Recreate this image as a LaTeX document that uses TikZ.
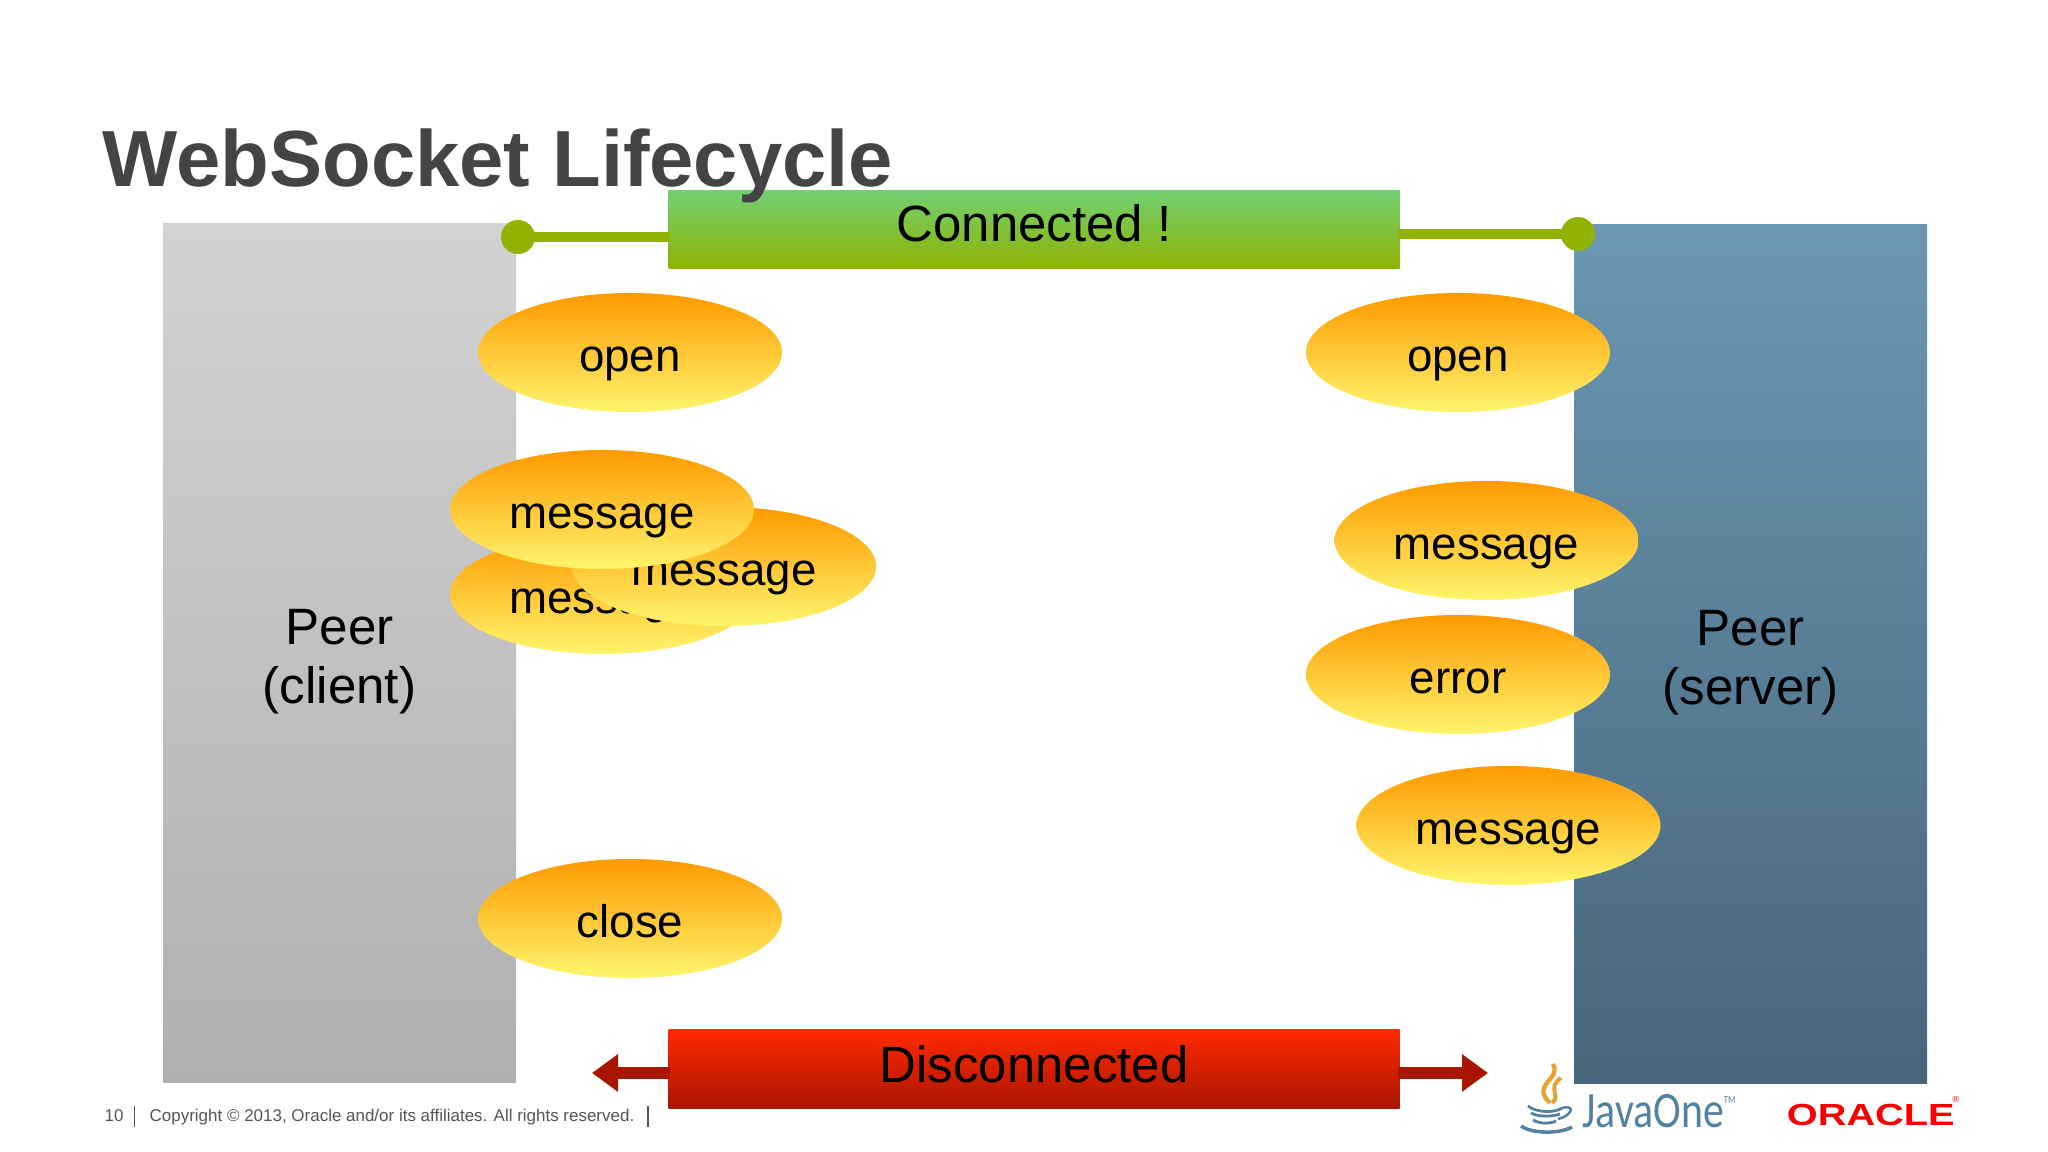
\documentclass[tikz,border=0pt]{standalone}
\usepackage{xcolor}
\usepackage{fontspec}
\setmainfont{Liberation Sans}
\newfontfamily\logofont{Carlito}
\usetikzlibrary{positioning,arrows.meta,shapes.geometric}

\definecolor{titlegray}{HTML}{444444}
\definecolor{footgray}{HTML}{555555}
\definecolor{clienttop}{HTML}{D2D2D2}
\definecolor{clientbottom}{HTML}{B0B0B0}
\definecolor{servertop}{HTML}{6A97B2}
\definecolor{serverbottom}{HTML}{47667C}
\definecolor{oktop}{HTML}{72D072}
\definecolor{okgreen}{HTML}{8FB300}
\definecolor{byetop}{HTML}{FF2A00}
\definecolor{byered}{HTML}{A81500}
\definecolor{eventtop}{HTML}{FF9A00}
\definecolor{eventbottom}{HTML}{FFF56C}
\definecolor{javablue}{HTML}{5382A1}
\definecolor{javaorange}{HTML}{E8A030}
\definecolor{oraclered}{HTML}{F80000}

\tikzset{
    peer/.style={rectangle, minimum width=3.53cm, minimum height=8.59cm, inner sep=0pt, align=center,
        font=\fontsize{14.55}{17}\selectfont},
    event/.style={ellipse, minimum width=3.04cm, minimum height=1.19cm, inner sep=0pt,
        top color=eventtop, bottom color=eventbottom,
        text height=11pt, text depth=0pt, font=\fontsize{13}{15}\selectfont},
    statebar/.style={rectangle, minimum width=7.31cm, minimum height=0.78cm, inner sep=0pt},
    enddot/.style={circle, fill=okgreen, minimum size=0.34cm, inner sep=0pt},
    okline/.style={okgreen, line width=3.1pt, shorten >=-0.6pt, shorten <=-0.6pt},
    byeline/.style={byered, line width=3.2pt, shorten <=-0.6pt, -{Triangle[length=0.26cm, width=0.36cm]}},
    footnote/.style={anchor=base west, inner sep=0pt, text=footgray, font=\fontsize{4.83}{6}\selectfont},
}

\begin{document}
\begin{tikzpicture}
\useasboundingbox (0,0) rectangle (20.48,11.52);
\fill[white] (0,0) rectangle (20.48,11.52);

% Peers
\node[peer, top color=clienttop, bottom color=clientbottom] (client) at (3.395,4.985) {\rule{0pt}{14.7pt}Peer\\(client)};
\node[peer, top color=servertop, bottom color=serverbottom] (server) at (17.505,4.975) {\rule{0pt}{14.7pt}Peer\\(server)};

% Connected
\node[statebar, top color=oktop, bottom color=okgreen,
    text height=8pt, text depth=1.4pt, font=\fontsize{14.5}{17}\selectfont] (connected) at (10.34,9.22) {Connected !};
\node[enddot] (dotclient) at (5.18,9.15) {};
\node[enddot] (dotserver) at (15.78,9.18) {};
\draw[okline] (dotclient) -- (dotclient -| connected.west);
\draw[okline] (connected.east |- dotserver) -- (dotserver);

% Title
\node[anchor=base west, inner sep=0pt, text=titlegray, font=\fontsize{22.65}{26}\selectfont\bfseries] (title) at (1.02,9.65) {WebSocket Lifecycle};

% Client events
\node[event] (openclient) at (6.30,7.995) {open};
\node[event] (msgclientc) at (6.02,5.575) {message};
\node[event] (msgclientb) at (7.24,5.855) {message};
\node[event] (msgclienta) at (6.02,6.425) {message};
\node[event] (closeclient) at (6.30,2.335) {close};

% Server events
\node[event] (openserver) at (14.58,7.995) {open};
\node[event] (msgservera) at (14.865,6.115) {message};
\node[event] (errorserver) at (14.58,4.775) {error};
\node[event] (msgserverb) at (15.085,3.265) {message};

% Disconnected
\coordinate (tipclient) at (5.92,0.79);
\coordinate (tipserver) at (14.88,0.79);
\node[statebar, minimum height=0.79cm, top color=byetop, bottom color=byered,
    text height=9pt, text depth=1.4pt, font=\fontsize{14.5}{18}\selectfont] (disconnected) at (10.34,0.825) {Disconnected};
\draw[byeline] (disconnected.west |- tipclient) -- (tipclient);
\draw[byeline] (disconnected.east |- tipserver) -- (tipserver);

% Footer
\node[footnote] (pagenum) at (1.04,0.30) {10};
\node[footnote] (copyright) at (1.49,0.30) {Copyright © 2013, Oracle and/or its affiliates. All rights reserved.};
\draw[footgray, line width=0.4pt] (1.345,0.25) -- (1.345,0.46);
\draw[footgray, line width=0.4pt] (6.48,0.25) -- (6.48,0.46);

% Java cup
\draw[javaorange, line width=1.2pt] (15.50,0.49) .. controls (15.30,0.68) and (15.62,0.72) .. (15.53,0.88);
\draw[javaorange, line width=1.1pt] (15.52,0.49) .. controls (15.62,0.56) and (15.46,0.64) .. (15.61,0.74);
\draw[javablue, line width=0.8pt] (15.28,0.46) .. controls (15.36,0.39) and (15.56,0.39) .. (15.62,0.44);
\draw[javablue, line width=0.8pt] (15.31,0.39) .. controls (15.38,0.35) and (15.52,0.35) .. (15.60,0.38);
\draw[javablue, line width=0.8pt] (15.33,0.32) .. controls (15.40,0.28) and (15.50,0.28) .. (15.56,0.31);
\draw[javablue, line width=1pt] (15.21,0.26) .. controls (15.32,0.18) and (15.60,0.18) .. (15.72,0.25);
\draw[javablue, line width=0.7pt] (15.62,0.44) .. controls (15.76,0.48) and (15.72,0.36) .. (15.58,0.33);

% Logos
\node[anchor=base west, inner sep=0pt, text=javablue, xscale=0.82, font=\fontsize{14.5}{17}\selectfont\logofont] (javaone) at (15.82,0.24) {JavaOne\raisebox{1.0ex}{\fontsize{3}{3}\selectfont TM}};
\node[anchor=base west, inner sep=0pt, text=oraclered, xscale=1.30, font=\fontsize{8.7}{10}\selectfont\bfseries] (oracle) at (17.86,0.265) {ORACLE};
\node[anchor=west, inner sep=0pt, text=oraclered, font=\fontsize{2.5}{3}\selectfont] (oraclereg) at (19.52,0.53) {®};
\end{tikzpicture}
\end{document}
